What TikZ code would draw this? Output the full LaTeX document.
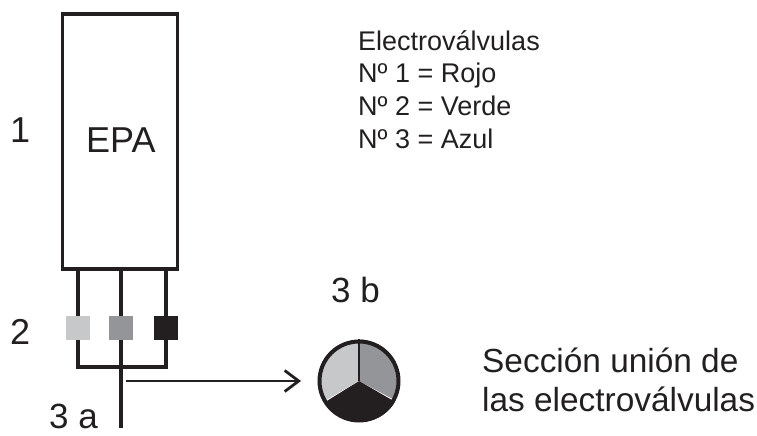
\documentclass[tikz,border=0pt]{standalone}
\usepackage{fontspec}
\setmainfont{Liberation Sans}
\usetikzlibrary{arrows.meta, positioning, calc, backgrounds}
\definecolor{epaInk}{RGB}{35, 31, 32}
\definecolor{epaLight}{RGB}{199, 200, 202}
\definecolor{epaMid}{RGB}{147, 149, 152}

\begin{document}
\begin{tikzpicture}[
        x=1pt, y=1pt,
        epabox/.style={rectangle, draw=epaInk, line width=3.5pt, minimum width=115pt, minimum height=255pt, inner sep=0pt},
        valve/.style={rectangle, minimum width=24pt, minimum height=24pt, inner sep=0pt},
        wire/.style={draw=epaInk, line width=4pt},
        arrow/.style={-{Straight Barb[length=14pt, width=21pt, line width=2.8pt]}, draw=epaInk, line width=2.8pt},
        tag/.style={font=\fontsize{36}{43}\selectfont, text=epaInk, inner sep=0pt, anchor=base west},
        note/.style={font=\fontsize{27}{32.8}\selectfont, text=epaInk, align=left, inner sep=0pt},
        caption/.style={font=\fontsize{33.4}{39}\selectfont, text=epaInk, align=left, inner sep=0pt}
    ]
        \useasboundingbox (0,0) rectangle (757,436);

        % EPA block and valves
        \node[epabox] (epa) at (120,294.5) {};
        \node[tag] (epatext) at (86,283) {EPA};
        \node[valve, fill=epaLight] (valveA) at (78,108) {};
        \node[valve, fill=epaMid, right=19pt of valveA] (valveB) {};
        \node[valve, fill=epaInk, right=20pt of valveB] (valveC) {};

        % Free ends of the wires
        \coordinate (joinA) at (valveA.center |- 0,69);
        \coordinate (joinC) at (valveC.center |- 0,69);
        \coordinate (tail) at (valveB.center |- 0,8);

        % Section
        \node[circle, draw=epaInk, line width=4pt, minimum size=79pt, inner sep=0pt] (pie) at (359,55) {};
        \coordinate (arrowstart) at (126,55);

        \begin{scope}[on background layer]
            \draw[wire] (epa.south -| valveA) -- (valveA);
            \draw[wire] (epa.south -| valveB) -- (valveB);
            \draw[wire] (epa.south -| valveC) -- (valveC);
            \draw[wire, line join=miter] (valveA) -- (joinA) -- (joinC) -- (valveC);
            \draw[wire] (valveB) -- (tail);
            \fill[epaMid] (pie.center) -- (pie.90) arc (90:-30:40pt) -- cycle;
            \fill[epaInk] (pie.center) -- (pie.-30) arc (-30:-150:40pt) -- cycle;
            \fill[epaLight] (pie.center) -- (pie.-150) arc (210:90:40pt) -- cycle;
        \end{scope}
        \draw[wire, line width=2.4pt] (pie.center) -- (pie.90);
        \draw[arrow] (arrowstart) -- (pie.west -| 301,0);

        % Labels
        \node[tag] (one) at (10,293) {1};
        \node[tag] (two) at (10,91) {2};
        \node[tag, font=\fontsize{35}{42}\selectfont] (threea) at (49,8) {3 a};
        \node[tag, font=\fontsize{35}{42}\selectfont] (threeb) at (331,133) {3 b};
        \node[note, anchor=north west] (legend) at (358,406) {Electroválvulas\\Nº 1 = Rojo\\Nº 2 = Verde\\Nº 3 = Azul};
        \node[caption, anchor=west] (section) at (482,56) {Sección unión de\\las electroválvulas};
    \end{tikzpicture}
\end{document}
